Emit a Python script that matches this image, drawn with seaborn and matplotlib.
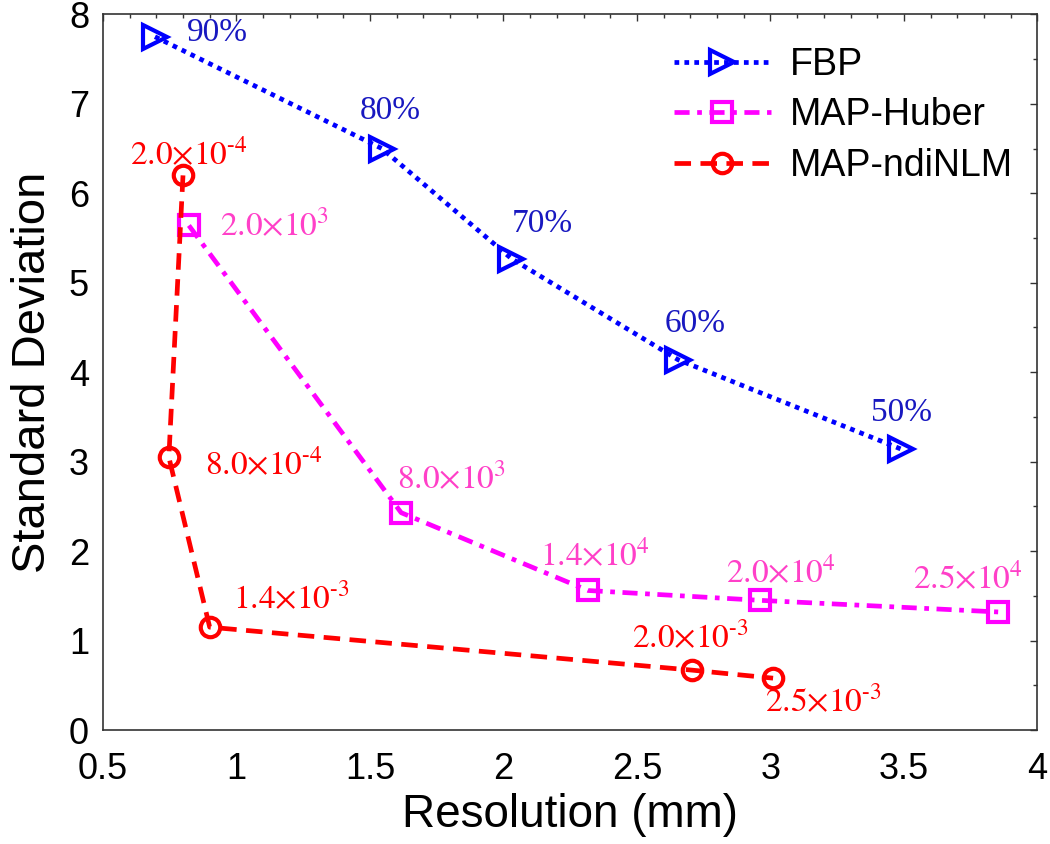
import pandas as pd
import numpy as np
import matplotlib
matplotlib.use("Agg")
import matplotlib.pyplot as plt
from matplotlib.ticker import MultipleLocator
import seaborn as sns

# --- data ---
fbp_res = [0.695, 1.545, 2.03, 2.654, 3.49]
fbp_std = [7.75, 6.50, 5.27, 4.14, 3.14]
fbp_labels = ['90%', '80%', '70%', '60%', '50%']

huber_res = [0.822, 1.617, 2.317, 2.961, 3.853]
huber_std = [5.64, 2.43, 1.56, 1.45, 1.32]
huber_labels = [r'$2.0{\times}10^{3}$', r'$8.0{\times}10^{3}$', r'$1.4{\times}10^{4}$',
                r'$2.0{\times}10^{4}$', r'$2.5{\times}10^{4}$']

nlm_res = [0.80, 0.747, 0.90, 2.706, 3.01]
nlm_std = [6.20, 3.05, 1.15, 0.67, 0.58]
nlm_labels = [r'$2.0{\times}10^{\text{-}4}$', r'$8.0{\times}10^{\text{-}4}$',
              r'$1.4{\times}10^{\text{-}3}$', r'$2.0{\times}10^{\text{-}3}$',
              r'$2.5{\times}10^{\text{-}3}$']

# label offsets (pixels) relative to each point
fbp_off = [(32, 4), (-22, 38), (0, 35), (-13, 36), (-30, 36)]
huber_off = [(31, 0), (-4, 34), (-48, 35), (-34, 27), (-85, 33)]
nlm_off = [(-53, 20), (36, -8), (23, 28), (-60, 32), (-8, -24)]

sns.set_style('white')
plt.rcParams['font.family'] = ['Liberation Sans', 'DejaVu Sans']
plt.rcParams['mathtext.fontset'] = 'stix'
plt.rcParams['text.color'] = 'black'
plt.rcParams['axes.labelcolor'] = 'black'
plt.rcParams['xtick.color'] = 'black'
plt.rcParams['ytick.color'] = 'black'

fig = plt.figure(figsize=(10.5, 8.44), dpi=100)
ax = fig.add_axes([0.098, 0.135, 0.89, 0.848])

series = [
    ('FBP', fbp_res, fbp_std, 'blue', (0, (1.0, 1.1)), '>', 17, fbp_labels, fbp_off, '#1818c0'),
    ('MAP-Huber', huber_res, huber_std, 'magenta', (0, (3.2, 1.6, 1.0, 1.6)), 's', 14,
     huber_labels, huber_off, '#ff40c8'),
    ('MAP-ndiNLM', nlm_res, nlm_std, 'red', (0, (3.5, 2.0)), 'o', 14,
     nlm_labels, nlm_off, 'red'),
]

for name, xs, ys, col, ls, mk, ms, labs, offs, tcol in series:
    df = pd.DataFrame({'res': xs, 'std': ys})
    sns.lineplot(data=df, x='res', y='std', ax=ax, sort=False, color=col,
                 linestyle=ls, linewidth=3.4, marker=mk, markersize=ms,
                 markerfacecolor='none', markeredgecolor=col, markeredgewidth=3,
                 label=name)
    for x, y, t, (dx, dy) in zip(xs, ys, labs, offs):
        ax.annotate(t, (x, y), xytext=(dx, dy), textcoords='offset pixels',
                    ha='left', va='center', color=tcol, fontsize=24,
                    family='Liberation Serif')

ax.set_xlim(0.5, 4)
ax.set_ylim(0, 8)
ax.xaxis.set_minor_locator(MultipleLocator(0.1))
ax.yaxis.set_minor_locator(MultipleLocator(0.5))
ax.set_xticks(np.arange(0.5, 4.01, 0.5))
ax.set_xticklabels(['0.5', '1', '1.5', '2', '2.5', '3', '3.5', '4'])
ax.set_yticks(np.arange(0, 8.01, 1))
ax.set_yticklabels([str(i) for i in range(9)])
ax.tick_params(which='both', direction='in', top=True, right=True,
               labelsize=26, color='#333333')
ax.tick_params(which='major', length=5, width=1)
ax.tick_params(axis='x', which='major', pad=16)
ax.tick_params(axis='y', which='major', pad=10)
ax.tick_params(which='minor', length=3, width=1)
for s in ax.spines.values():
    s.set_color('#333333')
    s.set_linewidth(1.2)

ax.set_xlabel('Resolution (mm)', fontsize=33, labelpad=4)
ax.set_ylabel('Standard Deviation', fontsize=34, labelpad=10)

ax.legend(loc='upper right', frameon=False, fontsize=27, handlelength=2.6,
          labelspacing=0.38, handletextpad=0.5, borderaxespad=0.0,
          bbox_to_anchor=(0.99, 0.975))

fig.savefig('out.png', dpi=100)
